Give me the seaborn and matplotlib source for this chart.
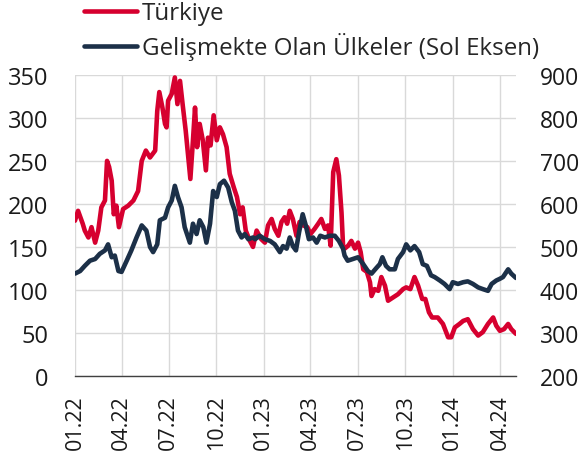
import pandas as pd
import matplotlib
matplotlib.use("Agg")
import matplotlib.pyplot as plt
import matplotlib.dates as mdates
import seaborn as sns

# --- DATOS (CDS, baz puan) ---
# Gelişmekte Olan Ülkeler (sol eksen)
em_dates = [
    "2022-01-01", "2022-01-11", "2022-01-20", "2022-01-30", "2022-02-09", "2022-02-18",
    "2022-02-28", "2022-03-06", "2022-03-13", "2022-03-19", "2022-03-26", "2022-04-01",
    "2022-04-11", "2022-04-20", "2022-04-30", "2022-05-10", "2022-05-19", "2022-05-26",
    "2022-06-01", "2022-06-09", "2022-06-14", "2022-06-24", "2022-06-30", "2022-07-07",
    "2022-07-13", "2022-07-19", "2022-07-26", "2022-08-01", "2022-08-11", "2022-08-17",
    "2022-08-24", "2022-08-30", "2022-09-06", "2022-09-12", "2022-09-19", "2022-09-25",
    "2022-10-02", "2022-10-08", "2022-10-16", "2022-10-24", "2022-10-31", "2022-11-06",
    "2022-11-12", "2022-11-19", "2022-11-25", "2022-12-02", "2022-12-11", "2022-12-15",
    "2022-12-24", "2023-01-03", "2023-01-13", "2023-01-22", "2023-02-01", "2023-02-07",
    "2023-02-14", "2023-02-20", "2023-02-26", "2023-03-04", "2023-03-10", "2023-03-17",
    "2023-03-23", "2023-03-29", "2023-04-06", "2023-04-13", "2023-04-20", "2023-04-29",
    "2023-05-08", "2023-05-18", "2023-05-26", "2023-06-03", "2023-06-06", "2023-06-12",
    "2023-06-22", "2023-07-02", "2023-07-12", "2023-07-21", "2023-07-28", "2023-08-07",
    "2023-08-13", "2023-08-18", "2023-08-25", "2023-09-01", "2023-09-11", "2023-09-17",
    "2023-09-27", "2023-10-03", "2023-10-11", "2023-10-19", "2023-10-28", "2023-11-04",
    "2023-11-12", "2023-11-20", "2023-11-27", "2023-12-07", "2023-12-16", "2023-12-26",
    "2024-01-01", "2024-01-11", "2024-01-21", "2024-01-30", "2024-02-09", "2024-02-19",
    "2024-02-28", "2024-03-09", "2024-03-16", "2024-03-25", "2024-04-01", "2024-04-07",
    "2024-04-17", "2024-04-23", "2024-05-02",
]
em_values = [
    119, 122, 128, 134, 136, 142,
    146, 153, 138, 140, 122, 121,
    134, 146, 161, 175, 169, 150,
    144, 153, 181, 184, 196, 204,
    221, 208, 196, 173, 155, 177,
    165, 181, 173, 155, 177, 215,
    208, 223, 227, 219, 202, 192,
    169, 161, 165, 159, 161, 159,
    163, 159, 157, 153, 144, 151,
    148, 161, 151, 146, 167, 188,
    175, 159, 161, 155, 163, 161,
    163, 163, 157, 148, 140, 134,
    136, 138, 130, 122, 119, 126,
    130, 138, 128, 124, 124, 136,
    144, 153, 146, 151, 144, 130,
    128, 117, 115, 111, 107, 101,
    109, 107, 109, 110, 107, 103,
    101, 99, 107, 111, 113, 115,
    124, 119, 114,
]

# Türkiye (sağ eksen)
tr_dates = [
    "2022-01-01", "2022-01-07", "2022-01-16", "2022-01-20", "2022-01-27", "2022-02-02",
    "2022-02-09", "2022-02-15", "2022-02-21", "2022-02-28", "2022-03-04", "2022-03-08",
    "2022-03-13", "2022-03-17", "2022-03-22", "2022-03-27", "2022-04-04", "2022-04-14",
    "2022-04-24", "2022-05-03", "2022-05-10", "2022-05-18", "2022-05-26", "2022-06-05",
    "2022-06-09", "2022-06-13", "2022-06-19", "2022-06-24", "2022-06-27", "2022-06-30",
    "2022-07-07", "2022-07-13", "2022-07-18", "2022-07-23", "2022-07-28", "2022-08-03",
    "2022-08-08", "2022-08-12", "2022-08-17", "2022-08-21", "2022-08-25", "2022-08-30",
    "2022-09-05", "2022-09-11", "2022-09-15", "2022-09-20", "2022-09-26", "2022-10-02",
    "2022-10-08", "2022-10-14", "2022-10-21", "2022-10-27", "2022-11-04", "2022-11-10",
    "2022-11-16", "2022-11-21", "2022-11-27", "2022-12-05", "2022-12-11", "2022-12-18",
    "2022-12-27", "2023-01-03", "2023-01-09", "2023-01-16", "2023-01-22", "2023-01-29",
    "2023-02-04", "2023-02-10", "2023-02-15", "2023-02-20", "2023-02-26", "2023-03-05",
    "2023-03-11", "2023-03-18", "2023-03-26", "2023-04-01", "2023-04-09", "2023-04-16",
    "2023-04-22", "2023-04-29", "2023-05-05", "2023-05-10", "2023-05-15", "2023-05-21",
    "2023-05-26", "2023-05-31", "2023-06-03", "2023-06-06", "2023-06-13", "2023-06-19",
    "2023-06-26", "2023-07-02", "2023-07-07", "2023-07-12", "2023-07-19", "2023-07-25",
    "2023-07-28", "2023-08-03", "2023-08-10", "2023-08-16", "2023-08-23", "2023-08-29",
    "2023-09-08", "2023-09-17", "2023-09-27", "2023-10-03", "2023-10-11", "2023-10-19",
    "2023-10-26", "2023-11-03", "2023-11-09", "2023-11-16", "2023-11-22", "2023-12-03",
    "2023-12-13", "2023-12-23", "2023-12-29", "2024-01-05", "2024-01-14", "2024-01-21",
    "2024-01-30", "2024-02-09", "2024-02-19", "2024-02-28", "2024-03-09", "2024-03-19",
    "2024-03-25", "2024-04-01", "2024-04-09", "2024-04-17", "2024-04-23", "2024-05-02",
]
tr_values = [
    561, 584, 554, 538, 522, 546,
    510, 538, 592, 608, 700, 686,
    654, 576, 596, 546, 588, 596,
    608, 630, 700, 724, 708, 724,
    816, 860, 824, 786, 778, 840,
    856, 894, 832, 886, 832, 770,
    708, 658, 748, 824, 732, 786,
    748, 678, 754, 736, 806, 748,
    778, 762, 732, 670, 638, 616,
    576, 592, 538, 514, 500, 538,
    518, 510, 550, 565, 542, 526,
    558, 569, 554, 584, 565, 526,
    558, 550, 546, 530, 542, 554,
    565, 542, 550, 503, 674, 704,
    666, 580, 503, 496, 503, 514,
    496, 510, 488, 448, 442, 418,
    386, 402, 398, 430, 410, 375,
    383, 390, 402, 406, 402, 430,
    410, 379, 379, 348, 336, 336,
    321, 290, 290, 313, 321, 328,
    332, 309, 294, 302, 321, 336,
    317, 305, 309, 321, 309, 298,
]

tick_dates = ["2022-01-01", "2022-04-01", "2022-07-01", "2022-10-01", "2023-01-01",
              "2023-04-01", "2023-07-01", "2023-10-01", "2024-01-01", "2024-04-01"]

label_tr = "Türkiye"
label_em = "Gelişmekte Olan Ülkeler (Sol Eksen)"

red = "#D6002F"
navy = "#1C3048"

em = pd.DataFrame({"tarih": pd.to_datetime(em_dates), "cds": em_values})
tr = pd.DataFrame({"tarih": pd.to_datetime(tr_dates), "cds": tr_values})

sns.set_theme(style="white")
plt.rcParams["font.family"] = ["Open Sans", "DejaVu Sans"]

fig = plt.figure(figsize=(5.81, 4.64), dpi=100)
ax = fig.add_axes([0.129, 0.1875, 0.759, 0.649])
ax2 = ax.twinx()

sns.lineplot(data=em, x="tarih", y="cds", ax=ax, color=navy, linewidth=3.3, label=label_em, legend=False)
sns.lineplot(data=tr, x="tarih", y="cds", ax=ax2, color=red, linewidth=3.3, label=label_tr, legend=False)

# navy por encima de la roja
ax.set_zorder(ax2.get_zorder() + 1)
ax.patch.set_visible(False)

ax.set_ylim(0, 350)
ax.set_yticks(range(0, 351, 50))
ax2.set_ylim(200, 900)
ax2.set_yticks(range(200, 901, 100))
ax.set_xlim(em["tarih"].min(), em["tarih"].max())
ax.set_xticks(pd.to_datetime(tick_dates))
ax.xaxis.set_major_formatter(mdates.DateFormatter("%m.%y"))

# cuadrícula en el eje de atrás
ax2.xaxis.set_visible(True)
ax2.tick_params(axis="x", labelbottom=False, length=0)
ax2.grid(True, axis="both", color="#D9D9D9", linewidth=1)
ax.grid(False)

for a in (ax, ax2):
    a.set_xlabel("")
    a.set_ylabel("")
    for s in a.spines.values():
        s.set_visible(False)
    a.tick_params(length=0, colors="#1A1A1A")
ax.spines["bottom"].set_visible(True)
ax.spines["bottom"].set_color("#404040")
ax.spines["bottom"].set_linewidth(1)
ax.tick_params(axis="y", pad=19, labelsize=17)
ax2.tick_params(axis="y", pad=17, labelsize=16.5)
ax.tick_params(axis="x", pad=13, rotation=90, labelsize=15.5)

handles = [ax2.get_lines()[0], ax.get_lines()[0]]
fig.legend(handles, [label_tr, label_em], loc="upper left", bbox_to_anchor=(0.14, 1.0),
           frameon=False, fontsize=17.4, handlelength=2.2, handletextpad=0.2,
           labelspacing=0.28, borderpad=0.1, borderaxespad=0)

fig.savefig("out.png", dpi=100, facecolor="white")
